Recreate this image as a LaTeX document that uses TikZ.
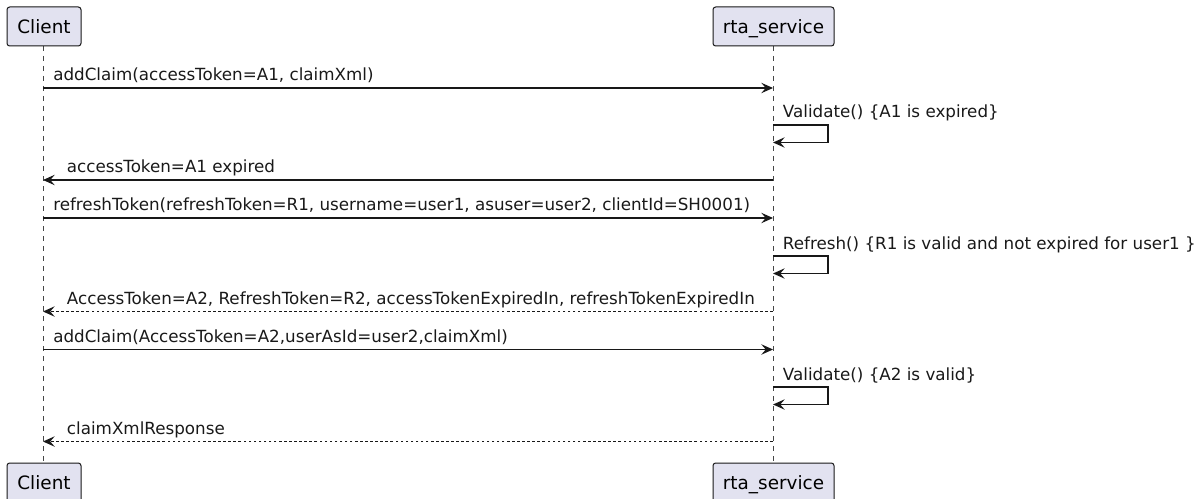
\documentclass[tikz,border=0pt]{standalone}
\usepackage{fontspec}
\setmainfont{DejaVu Sans}
\usetikzlibrary{arrows.meta}
\definecolor{pfill}{HTML}{E2E2F0}
\definecolor{ink}{HTML}{181818}
\tikzset{
  part/.style={draw=ink, fill=pfill, line width=0.75pt, rounded corners=2pt,
    inner sep=0pt, text height=10.4pt, text depth=0pt,
    minimum height=29.25pt, font=\fontsize{13.8pt}{15pt}\selectfont, text=black},
  life/.style={draw=ink!80, line width=0.6pt, dash pattern=on 3.75pt off 3.75pt},
  msg/.style={draw=ink, line width=0.8pt, -{Stealth[length=8.8pt, width=7.8pt, inset=3.4pt]}},
  ret/.style={msg, dash pattern=on 1.9pt off 1.9pt},
  lbl/.style={anchor=base west, inner sep=0pt, text=black!90,
    font=\fontsize{12.55pt}{14pt}\selectfont},
}
\begin{document}
\begin{tikzpicture}[x=0.75pt, y=-0.75pt]
\useasboundingbox (0,0) rectangle (1202,499);
% lifelines
\coordinate (cTop) at (43,46);
\coordinate (cBot) at (43,463);
\coordinate (rTop) at (773,46);
\coordinate (rBot) at (773,463);
\draw[life] (cTop) -- (cBot);
\draw[life] (rTop) -- (rBot);
% participants
\node[part, minimum width=55.5pt] (client) at (44,26.5) {Client};
\node[part, minimum width=90.75pt] (rta) at (773.5,26.5) {rta\_service};
\node[part, minimum width=55.5pt] (clientB) at (44,482.5) {Client};
\node[part, minimum width=90.75pt] (rtaB) at (773.5,482.5) {rta\_service};
% message endpoints
\foreach \n/\y in {1/88, 3/180, 4/218, 6/311.5, 7/349.5, 9/441.5} {
  \coordinate (c\n) at (43,\y);
  \coordinate (r\n) at (773,\y);
}
\foreach \n/\t in {2/125, 5/256, 8/387} {
  \coordinate (sa\n) at (773,\t);
  \coordinate (sb\n) at (828,\t);
  \coordinate (sc\n) at (828,\t+17.5);
  \coordinate (sd\n) at (773,\t+17.5);
}
% 1
\draw[msg] (c1) -- (r1);
\node[lbl] (m1) at (53,80.7) {addClaim(accessToken=A1, claimXml)};
% 2
\draw[msg] (sa2) -- (sb2) -- (sc2) -- (sd2);
\node[lbl] (m2) at (782.7,118) {Validate() \{A1 is expired\}};
% 3
\draw[msg] (r3) -- (c3);
\node[lbl] (m3) at (66.7,172.7) {accessToken=A1 expired};
% 4
\draw[msg] (c4) -- (r4);
\node[lbl] (m4) at (53,210.7) {refreshToken(refreshToken=R1, username=user1, asuser=user2, clientId=SH0001)};
% 5
\draw[msg] (sa5) -- (sb5) -- (sc5) -- (sd5);
\node[lbl] (m5) at (782.7,249) {Refresh() \{R1 is valid and not expired for user1 \}};
% 6
\draw[ret] (r6) -- (c6);
\node[lbl] (m6) at (66.7,304.2) {AccessToken=A2, RefreshToken=R2, accessTokenExpiredIn, refreshTokenExpiredIn};
% 7
\draw[msg] (c7) -- (r7);
\node[lbl] (m7) at (53,342.2) {addClaim(AccessToken=A2,userAsId=user2,claimXml)};
% 8
\draw[msg] (sa8) -- (sb8) -- (sc8) -- (sd8);
\node[lbl] (m8) at (782.7,380) {Validate() \{A2 is valid\}};
% 9
\draw[ret] (r9) -- (c9);
\node[lbl] (m9) at (66.7,434.2) {claimXmlResponse};
\end{tikzpicture}
\end{document}
